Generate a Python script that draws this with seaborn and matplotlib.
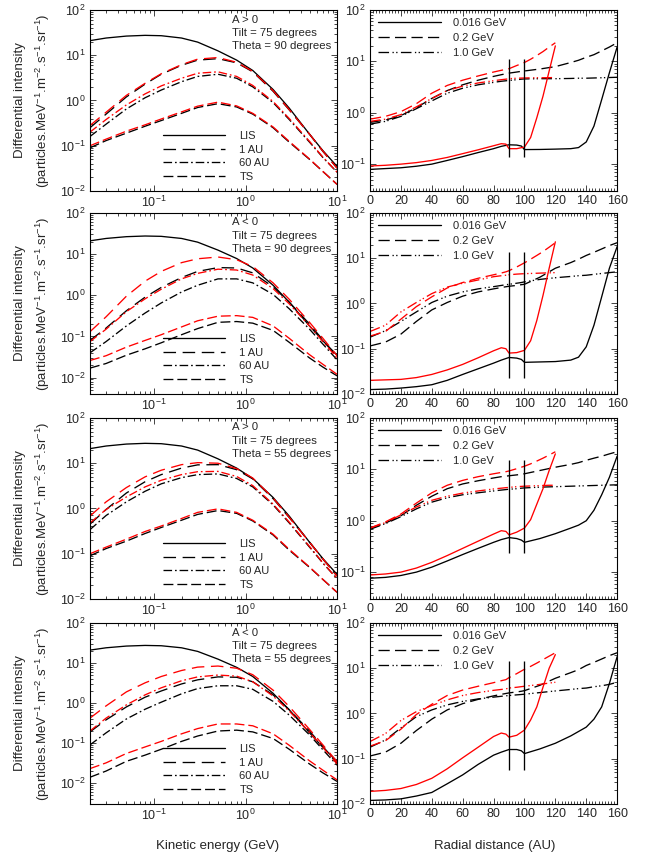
import matplotlib
matplotlib.use("Agg")
import matplotlib.pyplot as plt
from matplotlib.ticker import MultipleLocator, LogLocator, NullFormatter
import seaborn as sns

# ---- spectra (left column) ----
energy = [0.02, 0.03, 0.05, 0.08, 0.12, 0.2, 0.3, 0.5, 0.8, 1.2, 2, 3, 5, 7, 10]
lis = [21, 24, 26.5, 27.5, 27, 24, 19.5, 12.5, 7.8, 4.6, 1.75, 0.68, 0.18, 0.078, 0.035]

# A > 0, theta = 90
p1_1au_k = [0.25, 0.5, 1.2, 2.3, 3.8, 6.0, 7.8, 8.4, 6.8, 4.3, 1.6, 0.62, 0.18, 0.075, 0.032]
p1_1au_r = [0.28, 0.55, 1.3, 2.4, 3.9, 6.2, 8.2, 8.9, 7.0, 4.4, 1.65, 0.63, 0.18, 0.076, 0.032]
p1_60_k = [0.16, 0.3, 0.65, 1.15, 1.7, 2.6, 3.4, 3.8, 3.1, 2.0, 0.9, 0.38, 0.12, 0.055, 0.026]
p1_60_r = [0.2, 0.38, 0.8, 1.4, 2.1, 3.1, 4.0, 4.3, 3.4, 2.15, 0.95, 0.4, 0.125, 0.056, 0.026]
p1_ts_k = [0.09, 0.13, 0.19, 0.27, 0.36, 0.52, 0.7, 0.85, 0.72, 0.5, 0.25, 0.12, 0.05, 0.027, 0.014]
p1_ts_r = [0.1, 0.14, 0.21, 0.29, 0.39, 0.56, 0.75, 0.92, 0.76, 0.52, 0.26, 0.125, 0.051, 0.027, 0.014]

# A < 0, theta = 90
p2_1au_k = [0.08, 0.16, 0.42, 0.9, 1.55, 2.7, 3.8, 4.7, 4.6, 3.5, 1.6, 0.68, 0.2, 0.082, 0.031]
p2_1au_r = [0.13, 0.3, 0.95, 2.2, 3.8, 6.2, 7.7, 8.5, 7.3, 5.0, 2.0, 0.8, 0.22, 0.09, 0.034]
p2_60_k = [0.04, 0.075, 0.18, 0.37, 0.65, 1.2, 1.75, 2.5, 2.5, 2.0, 1.05, 0.47, 0.15, 0.065, 0.027]
p2_60_r = [0.075, 0.15, 0.4, 0.82, 1.4, 2.5, 3.4, 4.3, 4.1, 3.1, 1.45, 0.62, 0.18, 0.075, 0.03]
p2_ts_k = [0.017, 0.022, 0.035, 0.05, 0.07, 0.11, 0.155, 0.22, 0.23, 0.21, 0.14, 0.072, 0.03, 0.018, 0.011]
p2_ts_r = [0.026, 0.034, 0.055, 0.08, 0.11, 0.17, 0.24, 0.31, 0.32, 0.29, 0.18, 0.09, 0.036, 0.021, 0.012]

# A > 0, theta = 55
p3_1au_k = [0.45, 0.95, 2.2, 3.9, 5.6, 7.8, 9.2, 9.3, 7.2, 4.5, 1.65, 0.63, 0.18, 0.076, 0.032]
p3_1au_r = [0.68, 1.4, 2.9, 5.0, 7.0, 9.3, 10.3, 10.0, 7.6, 4.7, 1.7, 0.64, 0.18, 0.077, 0.032]
p3_60_k = [0.34, 0.7, 1.4, 2.4, 3.5, 4.8, 5.6, 5.8, 4.6, 3.0, 1.2, 0.48, 0.14, 0.062, 0.028]
p3_60_r = [0.48, 0.95, 1.8, 3.0, 4.2, 5.6, 6.5, 6.6, 5.1, 3.2, 1.25, 0.5, 0.145, 0.063, 0.028]
p3_ts_k = [0.09, 0.13, 0.19, 0.28, 0.38, 0.55, 0.74, 0.9, 0.78, 0.53, 0.26, 0.12, 0.05, 0.027, 0.014]
p3_ts_r = [0.1, 0.14, 0.21, 0.31, 0.41, 0.6, 0.82, 0.98, 0.82, 0.55, 0.27, 0.125, 0.051, 0.027, 0.014]

# A < 0, theta = 55
p4_1au_k = [0.19, 0.38, 0.8, 1.4, 2.0, 3.0, 3.8, 4.5, 4.4, 3.4, 1.6, 0.68, 0.2, 0.082, 0.031]
p4_1au_r = [0.42, 0.85, 1.9, 3.2, 4.6, 6.5, 7.9, 8.4, 7.4, 5.1, 2.1, 0.82, 0.22, 0.09, 0.034]
p4_60_k = [0.09, 0.18, 0.4, 0.7, 1.05, 1.7, 2.3, 2.7, 2.7, 2.2, 1.1, 0.5, 0.16, 0.068, 0.028]
p4_60_r = [0.2, 0.42, 0.9, 1.6, 2.4, 3.6, 4.5, 5.0, 4.7, 3.4, 1.5, 0.63, 0.185, 0.078, 0.03]
p4_ts_k = [0.014, 0.02, 0.035, 0.05, 0.07, 0.11, 0.15, 0.2, 0.21, 0.19, 0.13, 0.07, 0.03, 0.018, 0.011]
p4_ts_r = [0.023, 0.032, 0.055, 0.08, 0.11, 0.17, 0.23, 0.3, 0.3, 0.27, 0.17, 0.088, 0.036, 0.021, 0.012]

# ---- radial profiles (right column) ----
r_black = [0, 10, 20, 30, 40, 50, 60, 70, 80, 85, 90, 95, 98, 100, 110, 120, 130, 135, 140, 145, 150, 155, 160]
r_red = [0, 10, 20, 30, 40, 50, 60, 70, 80, 85, 88, 90, 95, 100, 104, 108, 112, 116, 120]

q1_016_k = [0.079, 0.082, 0.085, 0.091, 0.10, 0.118, 0.14, 0.168, 0.20, 0.222, 0.238, 0.235, 0.225, 0.192, 0.193, 0.196, 0.2, 0.21, 0.27, 0.55, 1.8, 6.0, 19]
q1_016_r = [0.092, 0.095, 0.1, 0.107, 0.118, 0.135, 0.16, 0.19, 0.228, 0.25, 0.245, 0.2, 0.2, 0.215, 0.33, 0.8, 2.1, 6.5, 20]
q1_02_k = [0.65, 0.72, 0.88, 1.25, 1.9, 2.7, 3.5, 4.3, 5.1, 5.5, 5.9, 6.2, 6.4, 6.5, 7.1, 7.9, 9.5, 10.5, 12, 13.5, 16, 19, 23]
q1_02_r = [0.75, 0.85, 1.05, 1.5, 2.4, 3.4, 4.3, 5.2, 6.2, 6.7, 7.0, 7.2, 8.3, 9.5, 11, 13, 15.5, 19, 23]
q1_10_k = [0.6, 0.68, 0.85, 1.2, 1.7, 2.4, 3.0, 3.5, 3.9, 4.1, 4.25, 4.4, 4.5, 4.55, 4.6, 4.6, 4.65, 4.7, 4.7, 4.75, 4.8, 4.85, 4.9]
q1_10_r = [0.68, 0.75, 0.92, 1.3, 1.9, 2.7, 3.3, 3.8, 4.2, 4.4, 4.5, 4.6, 4.7, 4.75, 4.78, 4.8, 4.8, 4.82, 4.85]

q2_016_k = [0.0125, 0.0128, 0.0135, 0.0145, 0.016, 0.02, 0.027, 0.036, 0.048, 0.056, 0.064, 0.062, 0.058, 0.05, 0.051, 0.052, 0.056, 0.065, 0.11, 0.33, 1.4, 6.0, 18]
q2_016_r = [0.02, 0.0205, 0.021, 0.023, 0.027, 0.034, 0.045, 0.063, 0.09, 0.105, 0.1, 0.08, 0.082, 0.092, 0.15, 0.42, 1.5, 6.0, 23]
q2_02_k = [0.115, 0.14, 0.21, 0.4, 0.72, 1.05, 1.45, 1.8, 2.1, 2.25, 2.4, 2.5, 2.6, 2.65, 3.8, 6.0, 8.0, 9.5, 11.5, 13.5, 16, 19, 22]
q2_02_r = [0.19, 0.24, 0.45, 0.85, 1.4, 2.2, 2.9, 3.6, 4.3, 4.7, 5.0, 5.3, 6.4, 7.9, 9.5, 11.5, 14, 17.5, 22]
q2_10_k = [0.18, 0.25, 0.4, 0.65, 1.05, 1.45, 1.8, 2.1, 2.35, 2.5, 2.65, 2.8, 2.9, 3.0, 3.4, 3.7, 3.95, 4.1, 4.2, 4.4, 4.6, 4.8, 5.0]
q2_10_r = [0.24, 0.33, 0.65, 1.05, 1.65, 2.3, 2.8, 3.3, 3.9, 4.1, 4.2, 4.3, 4.45, 4.55, 4.6, 4.65, 4.7, 4.75, 4.8]

q3_016_k = [0.076, 0.079, 0.086, 0.1, 0.125, 0.165, 0.22, 0.29, 0.38, 0.43, 0.47, 0.45, 0.42, 0.38, 0.45, 0.56, 0.72, 0.82, 1.0, 1.6, 3.2, 7.0, 18]
q3_016_r = [0.088, 0.092, 0.1, 0.12, 0.155, 0.21, 0.29, 0.4, 0.55, 0.64, 0.62, 0.53, 0.6, 0.72, 1.05, 2.1, 4.2, 9.5, 20]
q3_02_k = [0.7, 0.9, 1.25, 2.0, 3.0, 4.2, 5.2, 6.0, 6.8, 7.2, 7.5, 7.8, 8.0, 8.2, 9.5, 11, 12.5, 13.5, 15, 16.5, 18, 20, 22]
q3_02_r = [0.72, 0.95, 1.35, 2.2, 3.5, 4.9, 6.1, 7.2, 8.2, 8.7, 9.0, 9.3, 10.3, 11.5, 12.8, 14.5, 16.5, 19, 22]
q3_10_k = [0.68, 0.88, 1.2, 1.7, 2.3, 2.8, 3.2, 3.5, 3.8, 3.95, 4.1, 4.2, 4.3, 4.35, 4.5, 4.6, 4.7, 4.75, 4.8, 4.85, 4.9, 4.95, 5.0]
q3_10_r = [0.72, 0.92, 1.3, 1.85, 2.5, 3.0, 3.45, 3.8, 4.15, 4.3, 4.4, 4.45, 4.6, 4.7, 4.75, 4.8, 4.85, 4.9, 4.9]

q4_016_k = [0.012, 0.0123, 0.013, 0.015, 0.018, 0.028, 0.044, 0.075, 0.12, 0.14, 0.16, 0.16, 0.15, 0.13, 0.165, 0.22, 0.32, 0.4, 0.5, 0.75, 1.4, 4.6, 18]
q4_016_r = [0.019, 0.02, 0.022, 0.027, 0.037, 0.06, 0.105, 0.18, 0.31, 0.37, 0.35, 0.3, 0.33, 0.43, 0.72, 1.4, 3.8, 10, 20]
q4_02_k = [0.115, 0.14, 0.22, 0.42, 0.75, 1.2, 1.65, 2.05, 2.45, 2.65, 2.85, 3.0, 3.1, 3.2, 4.2, 6.0, 8.0, 9.3, 11.5, 13.5, 16, 19, 22]
q4_02_r = [0.19, 0.25, 0.45, 0.95, 1.6, 2.5, 3.3, 4.0, 4.8, 5.3, 5.6, 6.2, 7.6, 9.5, 11, 13, 15.5, 18.5, 22]
q4_10_k = [0.18, 0.26, 0.48, 0.85, 1.2, 1.55, 1.85, 2.1, 2.3, 2.4, 2.5, 2.58, 2.63, 2.67, 2.9, 3.15, 3.4, 3.55, 3.65, 3.9, 4.1, 4.4, 4.9]
q4_10_r = [0.24, 0.36, 0.7, 1.1, 1.5, 2.0, 2.5, 2.9, 3.25, 3.4, 3.5, 3.65, 3.8, 4.0, 4.15, 4.3, 4.5, 4.7, 4.9]

# termination shock / boundary markers (AU) and their drawn extent per panel
boundary_r = [90, 100]
marker_lo = [0.14, 0.023, 0.24, 0.057]
marker_hi = [11, 13.5, 15, 14.4]

polarity = ["A > 0", "A < 0", "A > 0", "A < 0"]
theta = [90, 90, 55, 55]
spec_ylim_low = [0.01, 0.004, 0.01, 0.003]
rad_ylim_low = [0.03, 0.01, 0.03, 0.01]

spectra = [
    (p1_1au_k, p1_1au_r, p1_60_k, p1_60_r, p1_ts_k, p1_ts_r),
    (p2_1au_k, p2_1au_r, p2_60_k, p2_60_r, p2_ts_k, p2_ts_r),
    (p3_1au_k, p3_1au_r, p3_60_k, p3_60_r, p3_ts_k, p3_ts_r),
    (p4_1au_k, p4_1au_r, p4_60_k, p4_60_r, p4_ts_k, p4_ts_r),
]
radial = [
    (q1_016_k, q1_016_r, q1_02_k, q1_02_r, q1_10_k, q1_10_r),
    (q2_016_k, q2_016_r, q2_02_k, q2_02_r, q2_10_k, q2_10_r),
    (q3_016_k, q3_016_r, q3_02_k, q3_02_r, q3_10_k, q3_10_r),
    (q4_016_k, q4_016_r, q4_02_k, q4_02_r, q4_10_k, q4_10_r),
]

sns.set_style("ticks")
plt.rcParams["font.family"] = ["Liberation Sans", "DejaVu Sans"]
plt.rcParams["mathtext.fontset"] = "custom"
plt.rcParams["mathtext.rm"] = "Liberation Sans"
plt.rcParams["mathtext.it"] = "Liberation Sans:italic"
plt.rcParams["mathtext.bf"] = "Liberation Sans:bold"

LW = 0.95
ls_1au = (0, (9.5, 5))
ls_60 = (0, (6.5, 2.2, 1.3, 2.2))
ls_ts = (0, (7.5, 3))
ls_02 = (0, (8.5, 4))
ls_10 = (0, (8, 2.6, 1, 1.8, 1, 2.6))

fig = plt.figure(figsize=(6.52, 8.6), dpi=100)

row_bottom = [0.7779, 0.5419, 0.3035, 0.0651]
row_h = 0.2105


def style_axes(ax):
    ax.tick_params(which="both", direction="in", top=True, right=True,
                   labelsize=9, width=0.6, pad=3)
    ax.tick_params(which="major", length=4.5)
    ax.tick_params(which="minor", length=2.5)
    for s in ax.spines.values():
        s.set_linewidth(0.8)
        s.set_color("black")


for i in range(4):
    # spectra panel
    ax = fig.add_axes([0.138, row_bottom[i], 0.379, row_h])
    ax.set_xscale("log")
    ax.set_yscale("log")
    k1, r1, k60, r60, kts, rts = spectra[i]
    sns.lineplot(x=energy, y=lis, ax=ax, color="black", lw=LW, label="LIS")
    sns.lineplot(x=energy, y=k1, ax=ax, color="black", lw=LW, ls=ls_1au, label="1 AU")
    sns.lineplot(x=energy, y=k60, ax=ax, color="black", lw=LW, ls=ls_60, label="60 AU")
    sns.lineplot(x=energy, y=kts, ax=ax, color="black", lw=LW, ls=ls_ts, label="TS")
    sns.lineplot(x=energy, y=r1, ax=ax, color="red", lw=LW, ls=ls_1au)
    sns.lineplot(x=energy, y=r60, ax=ax, color="red", lw=LW, ls=ls_60)
    sns.lineplot(x=energy, y=rts, ax=ax, color="red", lw=LW, ls=ls_ts)
    ax.set_xlim(0.02, 10)
    ax.set_ylim(spec_ylim_low[i], 100)
    ax.xaxis.set_major_locator(LogLocator(base=10))
    ax.yaxis.set_major_locator(LogLocator(base=10))
    ax.yaxis.set_minor_locator(LogLocator(base=10, subs=range(2, 10)))
    ax.xaxis.set_minor_locator(LogLocator(base=10, subs=range(2, 10)))
    ax.xaxis.set_minor_formatter(NullFormatter())
    ax.yaxis.set_minor_formatter(NullFormatter())
    ax.set_xlabel("")
    ax.set_ylabel("")
    style_axes(ax)
    ax.legend(loc="lower left", bbox_to_anchor=(0.258, 0.0), frameon=False,
              fontsize=8, handlelength=5.6, handletextpad=1.3,
              labelspacing=0.34, borderaxespad=0.4)
    ax.text(0.575, 0.975,
            f"{polarity[i]}\nTilt = 75 degrees\nTheta = {theta[i]} degrees",
            transform=ax.transAxes, ha="left", va="top", fontsize=8.2,
            linespacing=1.4)

    # radial panel
    ax2 = fig.add_axes([0.5675, row_bottom[i], 0.379, row_h])
    ax2.set_yscale("log")
    k016, r016, k02, r02, k10, r10 = radial[i]
    sns.lineplot(x=r_black, y=k016, ax=ax2, color="black", lw=LW, label="0.016 GeV")
    sns.lineplot(x=r_black, y=k02, ax=ax2, color="black", lw=LW, ls=ls_02, label="0.2 GeV")
    sns.lineplot(x=r_black, y=k10, ax=ax2, color="black", lw=LW, ls=ls_10, label="1.0 GeV")
    sns.lineplot(x=r_red, y=r016, ax=ax2, color="red", lw=LW)
    sns.lineplot(x=r_red, y=r02, ax=ax2, color="red", lw=LW, ls=ls_02)
    sns.lineplot(x=r_red, y=r10, ax=ax2, color="red", lw=LW, ls=ls_10)
    ax2.vlines(boundary_r, marker_lo[i], marker_hi[i], color="black", lw=LW)
    ax2.set_xlim(0, 160)
    ax2.set_ylim(rad_ylim_low[i], 100)
    ax2.xaxis.set_major_locator(MultipleLocator(20))
    ax2.xaxis.set_minor_locator(MultipleLocator(2))
    ax2.yaxis.set_major_locator(LogLocator(base=10))
    ax2.yaxis.set_minor_locator(LogLocator(base=10, subs=range(2, 10)))
    ax2.yaxis.set_minor_formatter(NullFormatter())
    ax2.set_xlabel("")
    ax2.set_ylabel("")
    style_axes(ax2)
    ax2.legend(loc="upper left", bbox_to_anchor=(0.0, 1.0), frameon=False,
               fontsize=8, handlelength=5.6, handletextpad=1.1,
               labelspacing=0.42, borderaxespad=0.35)

    yc = row_bottom[i] + row_h / 2
    fig.text(0.031, yc, "Differential intensity", rotation=90,
             ha="center", va="center", fontsize=9.5)
    fig.text(0.066, yc,
             "(particles.MeV$^{-1}$.m$^{-2}$.s$^{-1}$.sr$^{-1}$)",
             rotation=90, ha="center", va="center", fontsize=9.5)

fig.text(0.333, 0.016, "Kinetic energy (GeV)", ha="center", va="center", fontsize=9.5)
fig.text(0.759, 0.016, "Radial distance (AU)", ha="center", va="center", fontsize=9.5)

fig.savefig("out.png", dpi=100)
